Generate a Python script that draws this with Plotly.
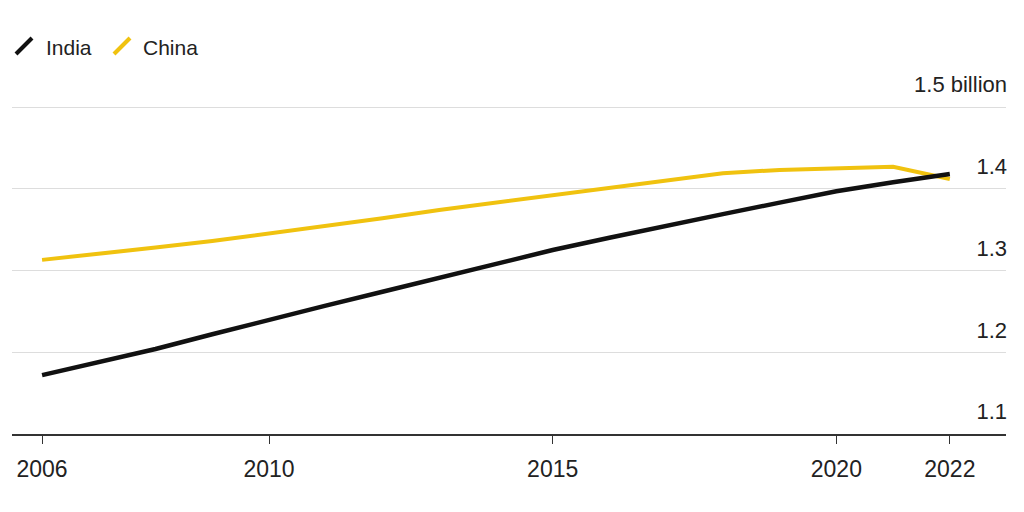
import plotly.graph_objects as go

years = list(range(2006, 2023))
india = [1.172, 1.188, 1.204, 1.222, 1.240, 1.257, 1.274, 1.291, 1.308, 1.325,
         1.340, 1.355, 1.369, 1.383, 1.397, 1.408, 1.418]
china = [1.313, 1.320, 1.328, 1.336, 1.345, 1.354, 1.364, 1.374, 1.383, 1.392,
         1.402, 1.411, 1.419, 1.423, 1.425, 1.427, 1.412]

x_ticks = [2006, 2010, 2015, 2020, 2022]
y_ticks = [1.1, 1.2, 1.3, 1.4, 1.5]
y_labels = ["1.1", "1.2", "1.3", "1.4", "1.5 billion"]

INDIA_C = "#111111"
CHINA_C = "#f0c20f"
FONT = "Liberation Sans, Arial, sans-serif"

# page body has an 8px margin; figure is sized/offset to compensate
OFF = 8
W, H = 1024 - OFF, 512 - OFF
L, R, T, B = 12 - OFF, 18, 105 - OFF, 78

fig = go.Figure()
fig.add_trace(go.Scatter(x=years, y=china, mode="lines", name="China",
                         line=dict(color=CHINA_C, width=4)))
fig.add_trace(go.Scatter(x=years, y=india, mode="lines", name="India",
                         line=dict(color=INDIA_C, width=4.5)))

def px2paper(px, py):
    fx, fy = px - OFF, py - OFF
    return (fx - L) / (W - L - R), (H - B - fy) / (H - T - B)

shapes = []
annotations = []
for (x0, y0, x1, y1, col, tx, label) in [
    (16, 54, 32, 38, INDIA_C, 44, "India"),
    (114, 54, 130, 38, CHINA_C, 141, "China"),
]:
    a0 = px2paper(x0, y0)
    a1 = px2paper(x1, y1)
    shapes.append(dict(type="line", xref="paper", yref="paper",
                       x0=a0[0], y0=a0[1], x1=a1[0], y1=a1[1],
                       line=dict(color=col, width=4)))
    tp = px2paper(tx, 47)
    annotations.append(dict(xref="paper", yref="paper", x=tp[0], y=tp[1],
                            text=label, showarrow=False, xanchor="left",
                            yanchor="middle",
                            font=dict(family=FONT, size=21, color="#222222")))

fig.update_layout(
    width=W, height=H,
    margin=dict(l=L, r=R, t=T, b=B, autoexpand=False),
    paper_bgcolor="white", plot_bgcolor="white",
    showlegend=False,
    shapes=shapes,
    annotations=annotations,
    font=dict(family=FONT, size=20, color="#222222"),
    xaxis=dict(range=[2005.47, 2022.99], tickmode="array", tickvals=x_ticks,
               ticktext=[str(v) for v in x_ticks], showgrid=False,
               showline=True, linecolor="#333333", linewidth=2,
               ticks="outside", ticklen=8, tickcolor="#333333", tickwidth=1,
               ticklabelstandoff=5, automargin=False,
               tickfont=dict(family=FONT, size=23, color="#222222"),
               zeroline=False, fixedrange=True),
    yaxis=dict(range=[1.1, 1.50245], tickmode="array", tickvals=y_ticks,
               ticktext=y_labels, side="right", ticklabelposition="inside top",
               ticklabelshift=-7, ticklabelstandoff=-4, automargin=False,
               ticklabeloverflow="allow",
               showgrid=True, gridcolor="#dddddd", gridwidth=1,
               showline=False, zeroline=False, ticks="",
               tickfont=dict(family=FONT, size=22, color="#222222"),
               fixedrange=True),
)

fig.write_html("out.html")
